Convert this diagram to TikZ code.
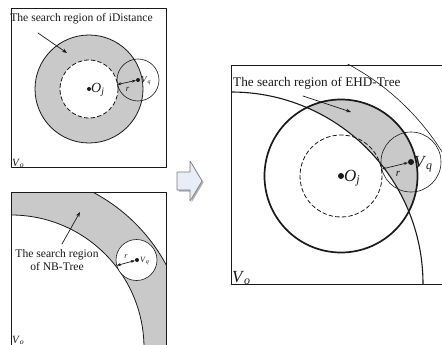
\documentclass[tikz,border=0pt]{standalone}
\usepackage{fontspec}
\setmainfont{Liberation Serif}
\usetikzlibrary{arrows.meta,calc,positioning}
\definecolor{sgInk}{HTML}{1A1A1A}
\definecolor{sgGray}{HTML}{C9C9C9}
\definecolor{sgArrow}{HTML}{E8EEF8}
\definecolor{sgEdge}{HTML}{7A7A7A}
\tikzset{
 regions/.style={line cap=round,line join=round,text=sgInk},
 frame/.style={draw=sgInk,line width=.9pt},
 band/.style={fill=sgGray},
 rim/.style={draw=sgInk,line width=.8pt},
 thickrim/.style={draw=sgInk,line width=1.7pt},
 innerdash/.style={draw=sgInk,line width=.8pt,dash pattern=on 4pt off 2.6pt},
 probe/.style={draw=sgInk,line width=.6pt},
 vdot/.style={circle,fill=sgInk,inner sep=0pt,minimum size=#1},
 radarrow/.style={draw=sgInk,line width=.7pt,{Stealth[length=4pt]}-{Stealth[length=4pt]}},
 pointer/.style={draw=sgInk,line width=.7pt,-{Stealth[length=5pt]}},
 caption/.style={font=\fontsize{11.6}{13.2}\selectfont,inner sep=0pt,align=center},
 bigcaption/.style={font=\fontsize{13.2}{15}\selectfont,inner sep=0pt,anchor=west},
 lbl/.style={inner sep=0pt,anchor=west},
 blockarrow/.style={fill=sgArrow,draw=sgEdge,line width=.6pt}
}
\newcommand{\vlab}[2]{\textit{#1}\textsubscript{\textit{#2}}}

\begin{document}
\begin{tikzpicture}[regions,x=1pt,y=-1pt]
 \useasboundingbox (0,0) rectangle (442,345);
 % (a) iDistance
 \begin{scope}
  \coordinate (O1) at (89,89);
  \fill[band] (O1) circle[radius=54];
  \fill[white] (O1) circle[radius=29];
  \draw[rim] (O1) circle[radius=54];
  \draw[innerdash] (O1) circle[radius=29];
  \draw[probe] (138,80) circle[radius=21];
  \draw[frame] (11,8) rectangle (166,167);
  \node[vdot=4pt] (q1) at (138,80) {};
  \node[vdot=4pt] (o1) at (O1) {};
  \coordinate (t1) at (117.3,84.5);
  \draw[radarrow] (t1) -- (q1);
  \node[font=\fontsize{9}{9}\selectfont\itshape,inner sep=0pt] (r1) at (127.5,89) {r};
  \node[lbl,font=\fontsize{9}{9}\selectfont] (vq1) at (141,81) {\vlab{V}{q}};
  \node[lbl,font=\fontsize{14}{14}\selectfont] (oj1) at (91,90) {\vlab{O}{j}};
  \node[caption] (cap1) at (81.5,19) {The search region of iDistance};
  \coordinate (p1) at (67,53);
  \draw[pointer] (38,33) -- (p1);
  \node[lbl,anchor=south west,font=\fontsize{11}{11}\selectfont] (vo1) at (12,168) {\vlab{V}{o}};
 \end{scope}
 % (b) NB-Tree
 \begin{scope}
  \coordinate (C2) at (11,348);
  \begin{scope}
   \clip (11,192) rectangle (166,345);
   \fill[band] (C2) circle[radius=176];
   \fill[white] (C2) circle[radius=133];
   \draw[rim] (C2) circle[radius=176];
   \draw[rim] (C2) circle[radius=133];
  \end{scope}
  \draw[probe,fill=white] (136.5,260) circle[radius=20.5];
  \draw[frame] (11,346) -- (11,192) -- (166,192) -- (166,346);
  \node[vdot=4pt] (q2) at (137,260) {};
  \coordinate (t2) at (116.8,265.5);
  \draw[radarrow] (t2) -- (q2);
  \node[font=\fontsize{8}{8}\selectfont\itshape,inner sep=0pt] (r2) at (126,256.5) {r};
  \node[lbl,font=\fontsize{8}{8}\selectfont] (vq2) at (140,261) {\vlab{V}{q}};
  \node[caption] (cap2) at (57,260) {The search region\\of NB-Tree};
  \coordinate (p2) at (80,212);
  \draw[pointer] (62,244) -- (p2);
  \node[lbl,anchor=south west,font=\fontsize{11}{11}\selectfont] (vo2) at (12,345) {\vlab{V}{o}};
 \end{scope}
 % block arrow
 \draw[fill=sgEdge!60,draw=none] (178.5,173.5) -- (191.5,173.5) -- (191.5,162.5) -- (203.5,182.5)
   -- (191.5,202.5) -- (191.5,191.5) -- (178.5,191.5) -- cycle;
 \draw[blockarrow] (177,172) -- (190,172) -- (190,161) -- (202,181) -- (190,201) -- (190,190)
   -- (177,190) -- cycle;
 % (c) EHD-Tree
 \begin{scope}
  \coordinate (C3) at (231,284);
  \coordinate (O3) at (341,176);
  \begin{scope}
   \clip (O3) circle[radius=76.5];
   \fill[band] (O3) circle[radius=76.5];
   \fill[white] (C3) circle[radius=192];
  \end{scope}
  \begin{scope}
   \clip (231,65) rectangle (442,284);
   \draw[draw=sgInk,line width=1.1pt] (C3) circle[radius=192];
   \draw[probe] (C3) circle[radius=249];
  \end{scope}
  \draw[innerdash] (O3) circle[radius=41];
  \draw[thickrim] (O3) circle[radius=76.5];
  \draw[probe] (411,162) circle[radius=30];
  \draw[frame] (442,65) -- (231,65) -- (231,284) -- (442,284);
  \node[vdot=6pt] (q3) at (411,162) {};
  \node[vdot=6pt] (o3) at (O3) {};
  \coordinate (t3) at (382,169);
  \draw[radarrow] (t3) -- (q3);
  \node[font=\fontsize{11}{11}\selectfont\itshape,inner sep=0pt] (r3) at (398,174) {r};
  \node[lbl,font=\fontsize{17}{17}\selectfont] (vq3) at (414,164) {\vlab{V}{q}};
  \node[lbl,font=\fontsize{17}{17}\selectfont] (oj3) at (344,178) {\vlab{O}{j}};
  \node[bigcaption] (cap3) at (233,83) {The search region of EHD-Tree};
  \coordinate (p3) at (351,112);
  \draw[pointer] (303,96) -- (p3);
  \node[lbl,anchor=south west,font=\fontsize{17}{17}\selectfont] (vo3) at (232,285) {\vlab{V}{o}};
 \end{scope}
\end{tikzpicture}
\end{document}
